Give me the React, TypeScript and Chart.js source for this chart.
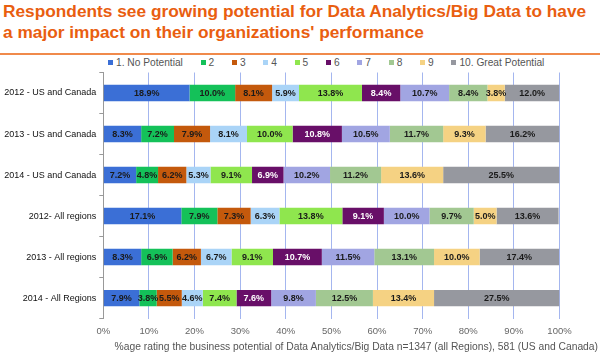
import React, { useEffect, useRef } from "react";
import { Chart, registerables } from "chart.js";

Chart.register(...registerables);

const categories = [
  "2012 - US and Canada",
  "2013 - US and Canada",
  "2014 - US and Canada",
  "2012- All regions",
  "2013 - All regions",
  "2014 - All Regions",
];

const seriesNames = [
  "1. No Potential",
  "2",
  "3",
  "4",
  "5",
  "6",
  "7",
  "8",
  "9",
  "10. Great Potential",
];

const s1 = [18.9, 8.3, 7.2, 17.1, 8.3, 7.9];
const s2 = [10.0, 7.2, 4.8, 7.9, 6.9, 3.8];
const s3 = [8.1, 7.9, 6.2, 7.3, 6.2, 5.5];
const s4 = [5.9, 8.1, 5.3, 6.3, 6.7, 4.6];
const s5 = [13.8, 10.0, 9.1, 13.8, 9.1, 7.4];
const s6 = [8.4, 10.8, 6.9, 9.1, 10.7, 7.6];
const s7 = [10.7, 10.5, 10.2, 10.0, 11.5, 9.8];
const s8 = [8.4, 11.7, 11.2, 9.7, 13.1, 12.5];
const s9 = [3.8, 9.3, 13.6, 5.0, 10.0, 13.4];
const s10 = [12.0, 16.2, 25.5, 13.6, 17.4, 27.5];

const seriesValues = [s1, s2, s3, s4, s5, s6, s7, s8, s9, s10];

const colors = [
  "#3B6FD6",
  "#14C159",
  "#C4590C",
  "#AAD4F7",
  "#8FE64E",
  "#680F68",
  "#A1A5E2",
  "#A2C892",
  "#F5D283",
  "#96989F",
];

const labelColors = [
  "#1a1a1a", "#1a1a1a", "#1a1a1a", "#1a1a1a", "#1a1a1a",
  "#ffffff", "#1a1a1a", "#1a1a1a", "#1a1a1a", "#1a1a1a",
];

const FONT = "'Liberation Sans', Arial, Helvetica, sans-serif";

const labelPlugin = {
  id: "segLabels",
  afterDatasetsDraw(chart: any) {
    const ctx = chart.ctx;
    ctx.save();
    ctx.font = `bold 9px ${FONT}`;
    ctx.textAlign = "center";
    ctx.textBaseline = "middle";
    chart.data.datasets.forEach((ds: any, di: number) => {
      const meta = chart.getDatasetMeta(di);
      meta.data.forEach((bar: any, i: number) => {
        const v = ds.data[i];
        const cx = (bar.x + bar.base) / 2;
        ctx.fillStyle = labelColors[di];
        ctx.fillText(v.toFixed(1) + "%", cx, bar.y + 0.5);
      });
    });
    ctx.restore();
  },
};

export default function App() {
  const ref = useRef<HTMLCanvasElement>(null);
  useEffect(() => {
    if (!ref.current) return;
    const chart = new Chart(ref.current, {
      type: "bar",
      data: {
        labels: categories,
        datasets: seriesValues.map((vals, i) => ({
          label: seriesNames[i],
          data: vals,
          backgroundColor: colors[i],
          borderWidth: 0,
          barPercentage: 0.4,
          categoryPercentage: 1,
        })),
      },
      options: {
        indexAxis: "y",
        responsive: false,
        animation: false,
        maintainAspectRatio: false,
        layout: { padding: { left: 0, right: 40.5, top: 16.5, bottom: 10 } },
        plugins: {
          legend: { display: false },
          tooltip: { enabled: false },
        },
        scales: {
          x: {
            stacked: true,
            min: 0,
            max: 100,
            ticks: {
              stepSize: 10,
              callback: (v: any) => v + "%",
              color: "#666",
              font: { family: FONT, size: 9.5 },
              padding: 7,
            },
            grid: { color: "#A4B6EF", drawTicks: false },
            border: { display: false },
          },
          y: {
            stacked: true,
            ticks: {
              color: "#111",
              font: { family: FONT, size: 9 },
              padding: 3,
            },
            grid: {
              drawOnChartArea: false,
              drawTicks: true,
              tickLength: 4,
              color: "#999",
              offset: true,
            },
            border: { display: true, color: "#999" },
            afterFit: (scale: any) => {
              scale.width = 103.3;
            },
          },
        },
      },
      plugins: [labelPlugin],
    });
    return () => chart.destroy();
  }, []);

  return (
    <div style={{ position: "absolute", left: 0, top: 0, width: 600, height: 354, background: "#fff", overflow: "hidden" }}>
      <div
        style={{
          position: "absolute",
          left: 3,
          top: 1,
          width: 597,
          fontFamily: FONT,
          fontWeight: "bold",
          fontSize: 17.3,
          lineHeight: "21px",
          color: "#E95E10",
          whiteSpace: "nowrap",
        }}
      >
        <div>Respondents see growing potential for Data Analytics/Big Data to have</div>
        <div>a major impact on their organizations' performance</div>
      </div>
      <div style={{ position: "absolute", left: 0, top: 53, width: 600, height: 2, background: "#F08A4B" }} />
      <div
        style={{
          position: "absolute",
          left: 108,
          top: 56,
          height: 12,
          display: "flex",
          alignItems: "center",
          fontFamily: FONT,
          fontSize: 10.2,
          color: "#555",
          whiteSpace: "nowrap",
        }}
      >
        {seriesNames.map((name, i) => (
          <div key={name} style={{ display: "flex", alignItems: "center", marginRight: i < seriesNames.length - 1 ? 17.7 : 0 }}>
            <span style={{ display: "inline-block", width: 5, height: 5, background: colors[i], marginRight: 3, marginTop: 1 }} />
            <span>{name}</span>
          </div>
        ))}
      </div>
      <canvas ref={ref} width={600} height={298} style={{ position: "absolute", left: 0, top: 56 }} />
      <div
        style={{
          position: "absolute",
          left: 0,
          top: 341,
          width: 598,
          textAlign: "right",
          fontFamily: FONT,
          fontSize: 10.3,
          color: "#555",
          whiteSpace: "nowrap",
        }}
      >
        %age rating the business potential of Data Analytics/Big Data n=1347 (all Regions), 581 (US and Canada)
      </div>
    </div>
  );
}
